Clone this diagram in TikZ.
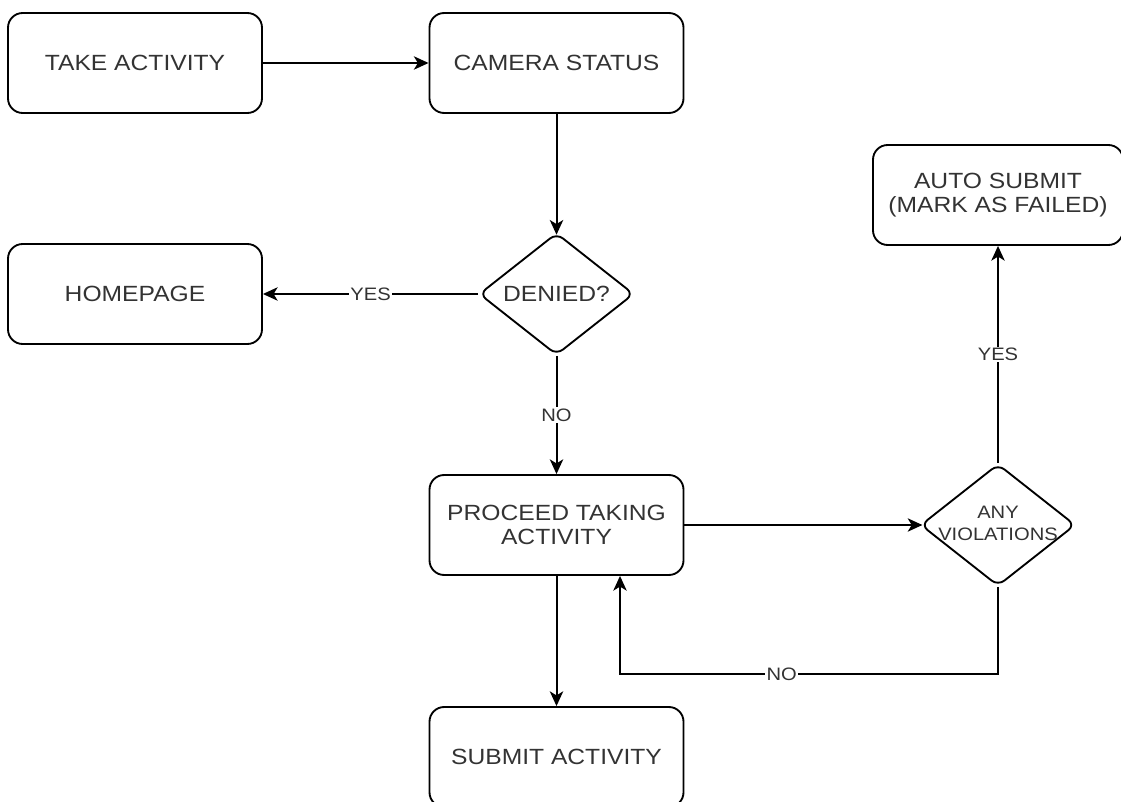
\documentclass[tikz,border=0pt]{standalone}
\usepackage{fontspec}
\setmainfont{Liberation Sans}[FakeStretch=1.12]
\usepackage{tikz}
\usetikzlibrary{arrows.meta, shapes.geometric}
\definecolor{txtgray}{HTML}{333333}

\begin{document}
\begin{tikzpicture}[x=0.75pt,y=0.75pt,yscale=-1,xscale=1,
  stepbox/.style={draw, line width=1.4pt, rounded corners=11pt, minimum width=190.5pt, minimum height=75pt,
    align=center, text=txtgray, font=\fontsize{16.5}{18.5}\selectfont, inner sep=0.75pt},
  decision/.style={draw, diamond, line width=1.4pt, rounded corners=6pt, minimum width=116pt, minimum height=91.5pt,
    inner sep=0pt, text=txtgray},
  flow/.style={line width=1.5pt, -{Stealth[length=11pt,width=10pt,inset=3pt]}},
  lbl/.style={fill=white, inner sep=1pt, text=txtgray, font=\fontsize{13.5}{15}\selectfont}]
\useasboundingbox (0,0) rectangle (1121,802);

% Rounded Rect
\node [stepbox] (take) at (135,63) {TAKE ACTIVITY};
% Rounded Rect
\node [stepbox] (camera) at (556.5,63) {CAMERA STATUS};
% Rounded Rect
\node [stepbox] (home) at (135,294) {HOMEPAGE};
% Diamond
\node [decision, font=\fontsize{16.5}{18.5}\selectfont] (denied) at (556.5,294) {\makebox[0pt]{DENIED?}};
% Rounded Rect
\node [stepbox] (proceed) at (556.5,525) {PROCEED TAKING\\ACTIVITY};
% Diamond
\node [decision, font=\fontsize{13.5}{17}\selectfont] (any) at (998,525) {\makebox[0pt]{\begin{tabular}{@{}c@{}}ANY\\VIOLATIONS\end{tabular}}};
% Rounded Rect
\node [stepbox, minimum width=187.5pt] (auto) at (998,195) {AUTO SUBMIT\\(MARK AS FAILED)};
% Rounded Rect
\node [stepbox] (submit) at (556.5,757) {SUBMIT ACTIVITY};

%Straight Lines
\draw [flow] (take) -- (camera);
\draw [flow, shorten >=-2pt] (camera) -- (denied);
\draw [flow] (denied) -- node [lbl] {YES} (home);
\draw [flow] (denied) -- node [lbl] {NO} (proceed);
\draw [flow, shorten >=-2pt] (proceed) -- (any);
\draw [flow] (any) -- node [lbl] {YES} (auto);
\draw [flow] (proceed) -- (submit);
%Elbow Line
\coordinate (nobend) at (620,674);
\draw [flow] (any.south) |- node [lbl, pos=0.786] {NO} (nobend) -- (nobend |- proceed.south);
\end{tikzpicture}
\end{document}
